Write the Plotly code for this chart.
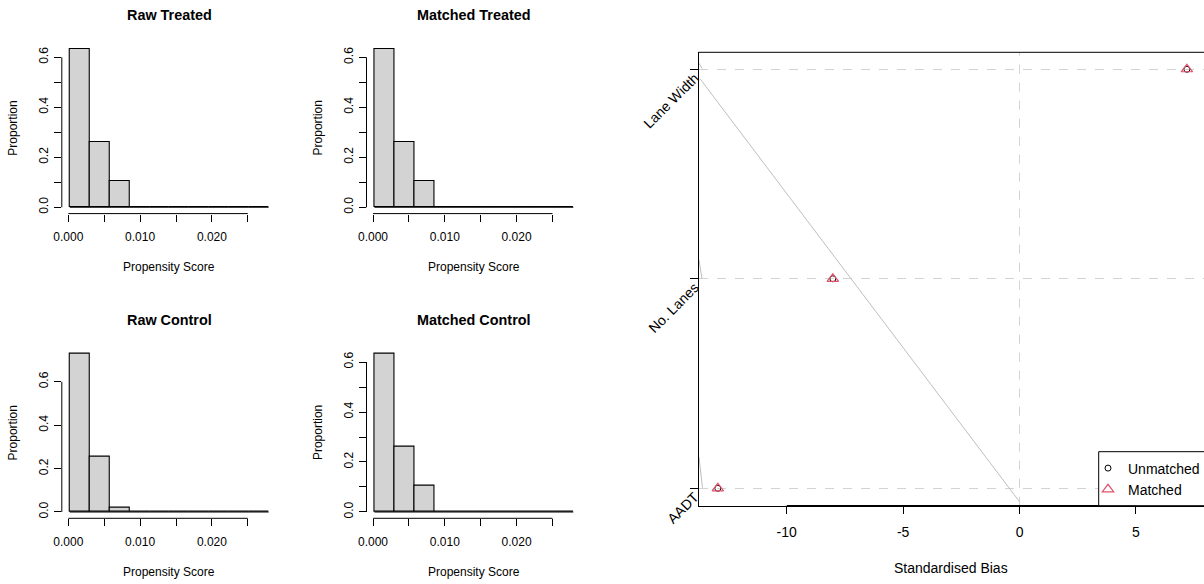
import plotly.graph_objects as go

# ---------------- data ----------------
breaks = [0.0002, 0.00297, 0.00574, 0.00851, 0.01128, 0.01405,
          0.01682, 0.01959, 0.02236, 0.02513, 0.0279]
raw_treated = [0.632, 0.263, 0.105, 0, 0, 0, 0, 0, 0, 0]
matched_treated = [0.632, 0.263, 0.105, 0, 0, 0, 0, 0, 0, 0]
raw_control = [0.728, 0.254, 0.018, 0, 0, 0, 0, 0, 0, 0]
matched_control = [0.632, 0.263, 0.105, 0, 0, 0, 0, 0, 0, 0]
hist_titles = ["Raw Treated", "Matched Treated", "Raw Control", "Matched Control"]
ps_ticks = [0, 0.005, 0.010, 0.015, 0.020, 0.025]
ps_ticktext = ["0.000", "", "0.010", "", "0.020", ""]

covariates = ["AADT", "No. Lanes", "Lane Width"]
cov_pos = [1, 2, 3]
bias_unmatched = [-12.96, -8.02, 7.19]
bias_matched = [-12.96, -8.02, 7.19]
bias_ticks = [-10, -5, 0, 5]
bias_ticktext = ["-10", "-5", "0", "5"]
# grey guide lines seen in the plot (data units)
diag_x = [-13.72, 0.0]
diag_y = [2.954, 0.936]
seg_x = [[-13.77, -13.64], [-13.77, -13.64], [-13.77, -13.62]]
seg_y = [[3.029, 3.004], [2.09, 2.0], [1.15, 1.003]]

W, H = 1204, 584
FONT = "Liberation Sans, Arial, sans-serif"
GREY_FILL = "#D3D3D3"
RED = "#DF536B"

fig = go.Figure()

def px_x(p):
    return p / W

def px_y(p):
    return 1 - p / H

# panel geometry (pixels)
cols = [(61.8, 276.6), (366.5, 581.3)]
rows = [(43.0, 213.6), (347.7, 518.3)]
panels = [
    (raw_treated, cols[0], rows[0]),
    (matched_treated, cols[1], rows[0]),
    (raw_control, cols[0], rows[1]),
    (matched_control, cols[1], rows[1]),
]

mids = [(a + b) / 2 for a, b in zip(breaks[:-1], breaks[1:])]
widths = [b - a for a, b in zip(breaks[:-1], breaks[1:])]
xr = breaks[-1] - breaks[0]
x_range = [breaks[0] - 0.04 * xr, breaks[-1] + 0.04 * xr]

annotations = []
shapes = []
layout_axes = {}

for i, (vals, (cx0, cx1), (ry0, ry1)) in enumerate(panels):
    n = i + 1
    xa = "x" if n == 1 else f"x{n}"
    ya = "y" if n == 1 else f"y{n}"
    fig.add_trace(go.Bar(
        x=mids, y=vals, width=widths, xaxis=xa, yaxis=ya,
        marker=dict(color=GREY_FILL, line=dict(color="black", width=1.1)),
        showlegend=False, hoverinfo="skip"))
    fig.add_trace(go.Scatter(
        x=[breaks[0], breaks[-1]], y=[0, 0], mode="lines", xaxis=xa, yaxis=ya,
        line=dict(color="black", width=1.1), showlegend=False, hoverinfo="skip"))
    m = max(vals)
    y_range = [-0.04 * m, 1.04 * m]
    if m > 0.7:
        yt = [0, 0.2, 0.4, 0.6]
        ytt = ["0.0", "0.2", "0.4", "0.6"]
    else:
        yt = [0, 0.1, 0.2, 0.3, 0.4, 0.5, 0.6]
        ytt = ["0.0", "", "0.2", "", "0.4", "", "0.6"]
    layout_axes["xaxis" if n == 1 else f"xaxis{n}"] = dict(
        domain=[px_x(cx0), px_x(cx1)], range=x_range, anchor=ya,
        tickvals=ps_ticks, ticktext=ps_ticktext, ticks="outside", ticklen=7,
        tickwidth=1, tickcolor="black", showline=False, showgrid=False,
        zeroline=False, automargin=False,
        tickfont=dict(size=12, color="black", family=FONT),
        ticklabelstandoff=5)
    layout_axes["yaxis" if n == 1 else f"yaxis{n}"] = dict(
        domain=[px_y(ry1), px_y(ry0)], range=y_range, anchor=xa,
        tickvals=yt, ticktext=ytt, ticks="outside", ticklen=7, tickwidth=1,
        tickcolor="black", showline=False, showgrid=False, zeroline=False,
        automargin=False, tickangle=-90,
        tickfont=dict(size=12, color="black", family=FONT),
        ticklabelstandoff=1)
    # axis lines spanning tick range (R style)
    shapes.append(dict(type="line", xref=xa, yref=f"{ya} domain",
                       x0=ps_ticks[0], x1=ps_ticks[-1], y0=0, y1=0,
                       line=dict(color="black", width=1)))
    shapes.append(dict(type="line", xref=f"{xa} domain", yref=ya,
                       x0=0, x1=0, y0=yt[0], y1=yt[-1],
                       line=dict(color="black", width=1)))
    ccx = (cx0 + cx1) / 2
    annotations.append(dict(text="<b>" + hist_titles[i] + "</b>", x=px_x(ccx),
                            y=px_y(ry0 - 28), xref="paper", yref="paper",
                            showarrow=False, xanchor="center", yanchor="middle",
                            font=dict(size=14.4, color="black", family=FONT)))
    annotations.append(dict(text="Propensity Score", x=px_x(ccx),
                            y=px_y(ry1 + 53.2), xref="paper", yref="paper",
                            showarrow=False, xanchor="center", yanchor="middle",
                            font=dict(size=12, color="black", family=FONT)))
    annotations.append(dict(text="Proportion", x=px_x(cx0 - 48.4),
                            y=px_y((ry0 + ry1) / 2), xref="paper", yref="paper",
                            showarrow=False, xanchor="center", yanchor="middle",
                            textangle=-90,
                            font=dict(size=12, color="black", family=FONT)))

# ---------------- right panel ----------------
rx0, rx1 = 698.5, 1204.0
ry0, ry1 = 52.3, 505.7
for sx, sy in zip(seg_x, seg_y):
    fig.add_trace(go.Scatter(x=sx, y=sy, mode="lines", xaxis="x5", yaxis="y5",
                             line=dict(color="#BEBEBE", width=1),
                             showlegend=False, hoverinfo="skip"))
fig.add_trace(go.Scatter(x=diag_x, y=diag_y, mode="lines", xaxis="x5", yaxis="y5",
                         line=dict(color="#BEBEBE", width=1),
                         showlegend=False, hoverinfo="skip"))
fig.add_trace(go.Scatter(x=bias_unmatched, y=cov_pos, mode="markers",
                         xaxis="x5", yaxis="y5", name="Unmatched",
                         marker=dict(symbol="circle-open", size=6, color="black",
                                     line=dict(width=1, color="black"))))
fig.add_trace(go.Scatter(x=bias_matched, y=cov_pos, mode="markers",
                         xaxis="x5", yaxis="y5", name="Matched",
                         marker=dict(symbol="triangle-up-open", size=10, color=RED,
                                     line=dict(width=1.2, color=RED))))

layout_axes["xaxis5"] = dict(
    domain=[px_x(rx0), 1.0], range=[-13.79, 7.925], anchor="y5",
    tickvals=bias_ticks, ticktext=bias_ticktext, ticks="outside", ticklen=7,
    tickwidth=1, tickcolor="black", showline=True, linecolor="black",
    linewidth=1, mirror=False, showgrid=False, zeroline=False,
    automargin=False,
    tickfont=dict(size=14, color="black", family=FONT), ticklabelstandoff=6)
layout_axes["yaxis5"] = dict(
    domain=[px_y(ry1), px_y(ry0)], range=[0.917, 3.081], anchor="x5",
    tickvals=cov_pos, ticktext=covariates, ticks="outside", ticklen=8,
    tickwidth=1, tickcolor="black", showline=True, linecolor="black",
    linewidth=1, mirror=False, showgrid=True, gridcolor="#D3D3D3",
    griddash="dash", gridwidth=1, zeroline=False, tickangle=-45,
    automargin=False, ticklabelstandoff=-8, ticklabelshift=7,
    tickfont=dict(size=14, color="black", family=FONT))
shapes.append(dict(type="line", xref="x5", yref="y5 domain", x0=0, x1=0,
                   y0=0, y1=1, line=dict(color="#D3D3D3", width=1, dash="dash"),
                   layer="below"))
shapes.append(dict(type="line", xref="x5 domain", yref="y5 domain", x0=0, x1=1,
                   y0=1, y1=1, line=dict(color="black", width=1)))
shapes.append(dict(type="line", xref="x5", yref="y5 domain", x0=bias_ticks[0],
                   x1=bias_ticks[-1], y0=0, y1=0,
                   line=dict(color="black", width=1.6)))
# legend box (R style)
shapes.append(dict(type="rect", xref="paper", yref="paper",
                   x0=px_x(1098.7), x1=px_x(1215), y0=px_y(505.7), y1=px_y(451.7),
                   line=dict(color="black", width=1), fillcolor="white",
                   layer="above"))
annotations.append(dict(text="Standardised Bias", x=px_x(951.5), y=px_y(568),
                        xref="paper", yref="paper", showarrow=False,
                        xanchor="center", yanchor="middle",
                        font=dict(size=14, color="black", family=FONT)))

fig.update_layout(
    width=W, height=H,
    margin=dict(l=0, r=0, t=0, b=0, autoexpand=False),
    paper_bgcolor="white", plot_bgcolor="white",
    font=dict(family=FONT, color="black"),
    bargap=0, annotations=annotations, shapes=shapes,
    legend=dict(x=px_x(1088), y=px_y(452.5), xanchor="left", yanchor="top",
                borderwidth=0, bgcolor="rgba(0,0,0,0)",
                font=dict(size=14, color="black", family=FONT),
                itemwidth=30, tracegroupgap=0),
    **layout_axes)

fig.write_html("out.html",
               config={"displayModeBar": False},
               post_script="document.body.style.margin='0';"
                           "document.body.style.overflow='hidden';")
